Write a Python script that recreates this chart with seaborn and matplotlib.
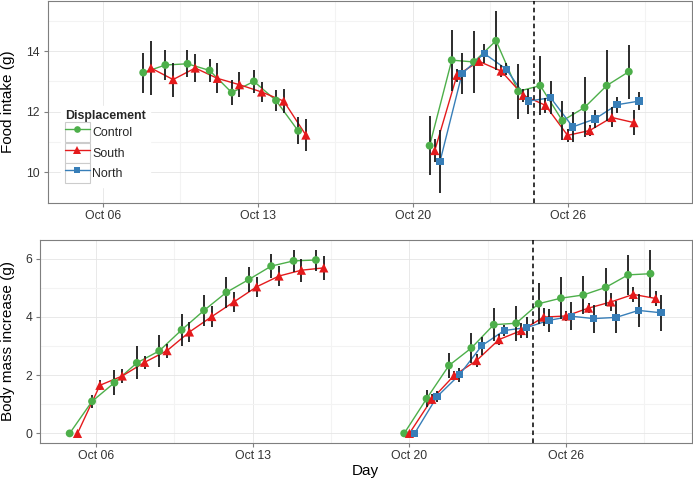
import numpy as np
import pandas as pd
import seaborn as sns
import matplotlib.pyplot as plt
from matplotlib.lines import Line2D
from matplotlib.patches import Rectangle
from matplotlib.legend_handler import HandlerTuple

groups = ["Control", "South", "North"]
colors = {"Control": "#4DAF4A", "South": "#E41A1C", "North": "#377EB8"}
shapes = {"Control": "o", "South": "^", "North": "s"}
msizes = {"Control": 32, "South": 44, "North": 28}

# x axis is counted in days from Oct 06
tick_days = [0, 7, 14, 21]
tick_labels = ["Oct 06", "Oct 13", "Oct 20", "Oct 26"]
switch_day = 19.5

# ---- food intake (g), mean and error
food_days_a = list(range(2, 10))
food_ctrl_a = [13.29, 13.54, 13.58, 13.36, 12.63, 13.00, 12.37, 11.37]
food_ctrl_a_err = [0.66, 0.49, 0.45, 0.37, 0.41, 0.38, 0.36, 0.44]
food_south_a = [13.44, 13.06, 13.44, 13.10, 12.89, 12.65, 12.35, 11.23]
food_south_a_err = [0.89, 0.56, 0.45, 0.49, 0.41, 0.34, 0.39, 0.52]

food_days_b = list(range(15, 25))
food_ctrl_b = [10.88, 13.70, 13.64, 14.34, 12.67, 12.86, 11.70, 12.14, 12.86, 13.32]
food_ctrl_b_err = [0.98, 1.01, 1.03, 0.98, 0.90, 0.98, 0.64, 0.99, 1.16, 0.89]
food_south_b = [10.72, 13.20, 13.66, 13.34, 12.54, 12.21, 11.22, 11.38, 11.81, 11.64]
food_south_b_err = [0.37, 0.22, 0.12, 0.19, 0.21, 0.25, 0.22, 0.17, 0.33, 0.41]
food_north_b = [10.35, 13.26, 13.92, 13.40, 12.35, 12.46, 11.50, 11.76, 12.23, 12.35]
food_north_b_err = [1.04, 0.66, 0.31, 0.19, 0.41, 0.55, 0.50, 0.30, 0.27, 0.30]

# ---- body mass increase (g), mean and error
mass_days_a = list(range(-1, 11))
mass_ctrl_a = [0, 1.10, 1.74, 2.42, 2.83, 3.55, 4.22, 4.84, 5.28, 5.74, 5.92, 5.95]
mass_ctrl_a_err = [0, 0.23, 0.43, 0.57, 0.54, 0.56, 0.54, 0.54, 0.44, 0.40, 0.38, 0.36]
mass_south_a = [0, 1.65, 1.97, 2.44, 2.84, 3.48, 4.01, 4.52, 5.03, 5.40, 5.60, 5.68]
mass_south_a_err = [0, 0.17, 0.23, 0.23, 0.24, 0.34, 0.35, 0.34, 0.35, 0.35, 0.40, 0.41]

mass_days_b = list(range(14, 26))
mass_ctrl_b = [0, 1.19, 2.33, 2.93, 3.73, 3.78, 4.45, 4.64, 4.75, 5.01, 5.44, 5.48]
mass_ctrl_b_err = [0, 0.30, 0.43, 0.50, 0.57, 0.60, 0.71, 0.71, 0.66, 0.65, 0.68, 0.80]
mass_south_b = [0, 1.17, 1.99, 2.50, 3.22, 3.53, 3.99, 4.03, 4.30, 4.51, 4.77, 4.63]
mass_south_b_err = [0, 0.17, 0.14, 0.23, 0.19, 0.27, 0.31, 0.17, 0.18, 0.30, 0.27, 0.26]
mass_north_b = [0, 1.26, 2.01, 3.01, 3.53, 3.63, 3.88, 4.02, 3.94, 3.98, 4.22, 4.14]
mass_north_b_err = [0, 0.20, 0.23, 0.31, 0.20, 0.37, 0.40, 0.48, 0.48, 0.55, 0.58, 0.62]

dodge = 0.7  # like position_dodge(width=0.7)


def long_frame(runs):
    frames = []
    for run, (days, series) in enumerate(runs):
        n = len(series)
        for i, (grp, (vals, errs)) in enumerate(series.items()):
            frames.append(pd.DataFrame({
                "day": np.array(days) + (i - (n - 1) / 2) * dodge / n,
                "value": vals, "err": errs, "group": grp,
                "run": f"{grp}-{run}"}))
    return pd.concat(frames, ignore_index=True)


food = long_frame([
    (food_days_a, {"Control": (food_ctrl_a, food_ctrl_a_err),
                   "South": (food_south_a, food_south_a_err)}),
    (food_days_b, {"Control": (food_ctrl_b, food_ctrl_b_err),
                   "South": (food_south_b, food_south_b_err),
                   "North": (food_north_b, food_north_b_err)}),
])
mass = long_frame([
    (mass_days_a, {"Control": (mass_ctrl_a, mass_ctrl_a_err),
                   "South": (mass_south_a, mass_south_a_err)}),
    (mass_days_b, {"Control": (mass_ctrl_b, mass_ctrl_b_err),
                   "South": (mass_south_b, mass_south_b_err),
                   "North": (mass_north_b, mass_north_b_err)}),
])

sns.set_theme(style="white")
plt.rcParams["font.family"] = ["Liberation Sans", "DejaVu Sans"]

fig = plt.figure(figsize=(6.93, 4.8), dpi=100)
ax1 = fig.add_axes([47.5 / 693, 1 - 202.7 / 480, (691.5 - 47.5) / 693, 201.7 / 480])
ax2 = fig.add_axes([40 / 693, 1 - 442.7 / 480, (691.5 - 40) / 693, 202.5 / 480])


def draw(ax, df, ylim, yticks, yminor, ylabel):
    sns.lineplot(data=df, x="day", y="value", hue="group", units="run",
                 estimator=None, palette=colors, hue_order=groups, lw=1.0,
                 legend=False, ax=ax, zorder=2)
    ax.vlines(df["day"], df["value"] - df["err"], df["value"] + df["err"],
              color="#1a1a1a", lw=1.3, zorder=3)
    sns.scatterplot(data=df, x="day", y="value", hue="group", style="group",
                    size="group", sizes=msizes, markers=shapes, palette=colors,
                    hue_order=groups, style_order=groups, size_order=groups,
                    linewidth=0, legend=False, ax=ax, zorder=4)
    ax.axvline(switch_day, color="black", lw=1.1, ls=(0, (3, 2.2)), zorder=5)
    ax.set_xlim(-2.5, 26.6)
    ax.set_ylim(*ylim)
    ax.set_xticks(tick_days)
    ax.set_xticklabels(tick_labels)
    ax.set_xticks([3.5, 10.5, 17.5, 24.5], minor=True)
    ax.set_yticks(yticks)
    ax.set_yticks(yminor, minor=True)
    ax.grid(which="major", color="#E5E5E5", lw=0.6)
    ax.grid(which="minor", color="#F3F3F3", lw=0.8)
    ax.set_axisbelow(True)
    for s in ax.spines.values():
        s.set_visible(True)
        s.set_color("#7F7F7F")
        s.set_linewidth(0.8)
    ax.tick_params(which="major", length=3, width=0.8, color="#7F7F7F",
                   labelsize=8.8, labelcolor="#333333", pad=2.5,
                   bottom=True, left=True)
    ax.tick_params(which="minor", length=0)
    ax.set_ylabel(ylabel, fontsize=11, color="black")
    ax.set_xlabel("")


draw(ax1, food, (9.02, 15.65), [10, 12, 14], [9, 11, 13, 15], "Food intake (g)")
draw(ax2, mass, (-0.32, 6.63), [0, 2, 4, 6], [1, 3, 5], "Body mass increase (g)")
ax1.yaxis.set_label_coords(-0.051, 0.5)
ax2.yaxis.set_label_coords(-0.039, 0.5)
ax2.set_xlabel("Day", fontsize=11, color="black")
ax2.xaxis.set_label_coords(0.5, -0.105)

# legend keys: grey-bordered box with line + marker, like ggplot
handles = [(Rectangle((0, 0), 1, 1, facecolor="white", edgecolor="#CCCCCC", lw=0.8),
            Line2D([], [], color=colors[g], marker=shapes[g], lw=1.0,
                   markersize=5.5 if g == "South" else 4.8, markeredgewidth=0))
           for g in groups]
leg = ax1.legend(handles, groups, title="Displacement", loc="upper left",
                 bbox_to_anchor=(0.012, 0.51), fontsize=8.9, title_fontsize=8.9,
                 frameon=True, facecolor="white", edgecolor="white", framealpha=1,
                 handler_map={tuple: HandlerTuple(ndivide=1, pad=0)},
                 handlelength=2.0, handleheight=2.1, handletextpad=0.2,
                 labelspacing=0.05, borderpad=0.3, alignment="left")
leg.get_title().set_fontweight("bold")

fig.savefig("out.png", dpi=100)
